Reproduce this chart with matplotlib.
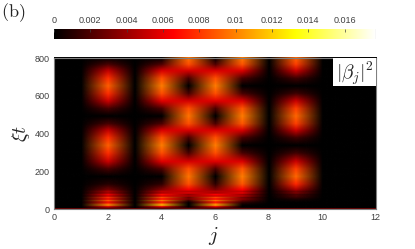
import matplotlib
matplotlib.use("Agg")
import matplotlib.pyplot as plt
import numpy as np
from matplotlib.colors import LinearSegmentedColormap, Normalize
from matplotlib.image import NonUniformImage

plt.rcParams["font.family"] = ["Liberation Sans", "DejaVu Sans"]
plt.rcParams["mathtext.fontset"] = "cm"

W, H = 415, 249
GRAY = "#7f7f7f"
TEXT = "#404040"

# time samples, denser where the fast stripes are
T = [0, 3, 10, 18, 26, 34, 42, 50, 58, 66, 74, 82, 90, 100, 130, 170, 210, 250, 295, 335,
     375, 415, 450, 490, 530, 570, 610, 650, 690, 730, 765, 800]

SITE_EMPTY = [.0025] + [0] * 31
SITE_2 = [.0025, .003, .0055, .0105, .0082, .0062, .0088, .006, .0078, .005, .0062, .004, .0044, .003, .001, 0,
          .0018, .0052, .0078, .009, .0078, .005, .0018, 0, .0018, .0052, .0078, .009, .0078, .005, .0018, 0]
SITE_4 = [.0025, .003, .006, .0118, .0092, .0068, .0098, .0066, .0086, .0054, .0068, .0044, .0048, .0034, .0012, 0,
          .002, .0058, .0086, .0098, .0086, .0056, .002, 0, .002, .0058, .0086, .0098, .0086, .0056, .002, 0]
SITE_5 = [.0025, .001, 0, 0, 0, .0003, .0014, .0032, .0026, .0044, .0036, .0058, .0048, .0064, .0086, .0096,
          .0086, .0054, .0018, 0, .0018, .0056, .0086, .0096, .0086, .0054, .0018, 0, .0018, .0054, .0086, .0096]
SITE_6 = [.0025, .003, .006, .0112, .009, .0066, .0096, .0064, .0084, .0052, .0066, .0042, .0046, .0032, .0012, 0,
          .002, .0058, .0086, .0098, .0086, .0056, .002, 0, .002, .0058, .0086, .0098, .0086, .0056, .002, 0]
SITE_7 = [.0025, .0005, 0, .0002, .0007, .0014, .0025, .0036, .003, .0048, .004, .006, .005, .0066, .0088, .0098,
          .0088, .0056, .0018, 0, .0018, .0056, .0088, .0098, .0088, .0056, .0018, 0, .0018, .0056, .0088, .0098]
SITE_9 = [.0025, 0, 0, 0, 0, .0001, .0004, .0008, .0014, .002, .002, .0032, .003, .0044, .0076, .0092,
          .0082, .0052, .0016, 0, .0016, .0052, .0082, .0092, .0082, .0052, .0016, 0, .0016, .0052, .0082, .0092]

SITES = np.arange(13)
COLUMNS = [SITE_EMPTY, SITE_EMPTY, SITE_2, SITE_EMPTY, SITE_4, SITE_5, SITE_6, SITE_7,
           SITE_EMPTY, SITE_9, SITE_EMPTY, SITE_EMPTY, SITE_EMPTY]

XTICKS = [0, 2, 4, 6, 8, 10, 12]
YTICKS = [0, 200, 400, 600, 800]
CTICKS = [0, 0.002, 0.004, 0.006, 0.008, 0.01, 0.012, 0.014, 0.016]
CLABELS = ["0", "0.002", "0.004", "0.006", "0.008", "0.01", "0.012", "0.014", "0.016"]
VMAX = 0.0177

# hot, but starting from true black like the original
cmap = LinearSegmentedColormap.from_list(
    "hot0", [(0, "#000000"), (0.37, "#ff0000"), (0.75, "#ffff00"), (1, "#ffffff")], N=256)
norm = Normalize(0, VMAX)


def box(x0, y0, x1, y1):
    """Pixel box (y from the top) to figure fractions."""
    return [x0 / W, 1 - y1 / H, (x1 - x0) / W, (y1 - y0) / H]


fig = plt.figure(figsize=(W / 100, H / 100), dpi=100)
ax = fig.add_axes(box(54, 58, 375.5, 209))
im = NonUniformImage(ax, interpolation="bilinear", cmap=cmap, norm=norm, extent=(0, 12, 0, 800))
im.set_data(SITES, T, np.array(COLUMNS).T)
ax.add_image(im)
ax.set_xlim(0, 12)
ax.set_ylim(0, 800)
ax.set_xticks(XTICKS)
ax.set_yticks(YTICKS)
ax.tick_params(labelsize=6.5, length=0, colors=TEXT, pad=3)
for s in ax.spines.values():
    s.set_color(GRAY)
    s.set_linewidth(0.8)

# colour bar as a plain image ramp, the 256 mesh quads of fig.colorbar show bands at this size
cax = fig.add_axes(box(54, 29, 375.5, 39))
cax.imshow(np.linspace(0, VMAX, 512)[None, :], extent=(0, VMAX, 0, 1), aspect="auto",
           cmap=cmap, norm=norm, interpolation="bilinear")
cax.set_yticks([])
cax.set_xticks(CTICKS, labels=CLABELS)
cax.xaxis.tick_top()
cax.tick_params(labelsize=6.5, length=2, width=0.5, direction="in", colors=TEXT, pad=3)
for s in cax.spines.values():
    s.set_visible(False)
cax.axvline(VMAX, color=GRAY, lw=0.8)

fig.text(213 / W, 1 - 236 / H, "$j$", fontsize=15, ha="center", va="center", color="#222222")
fig.text(21 / W, 1 - 134 / H, r"$\xi t$", fontsize=14, rotation=90, ha="center", va="center", color="#222222")
fig.text(1 / W, 1 - 13 / H, r"$\mathrm{(b)}$", fontsize=13, ha="left", va="center", color="#222222")

# white label box in the upper right corner
lab = fig.add_axes(box(333, 58, 375.5, 86))
lab.set_xticks([])
lab.set_yticks([])
for s in lab.spines.values():
    s.set_visible(False)
lab.text(0.5, 0.46, r"$|\beta_j|^2$", fontsize=14, ha="center", va="center", color="#222222",
         transform=lab.transAxes)

fig.savefig("out.png", dpi=100)
